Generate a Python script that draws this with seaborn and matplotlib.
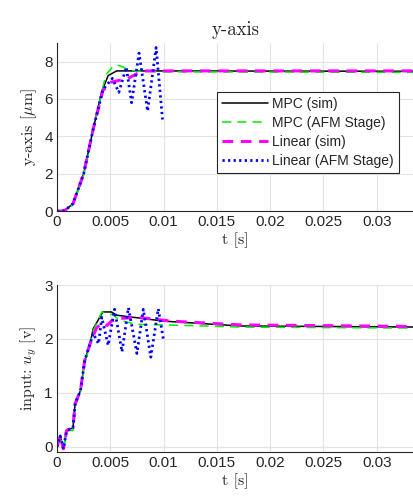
import numpy as np
import pandas as pd
import matplotlib
matplotlib.use("Agg")
import matplotlib.pyplot as plt
import seaborn as sns

sns.set_style("white")
plt.rcParams['font.family'] = ['Liberation Sans', 'DejaVu Sans']
plt.rcParams['mathtext.fontset'] = 'cm'
plt.rcParams['axes.unicode_minus'] = False

# ---------------- data: top panel (y-axis position, um) ----------------
t_top_mpc_sim = [0, 0.0007, 0.0015, 0.0025, 0.0034, 0.0042, 0.0048, 0.0056, 0.034]
y_top_mpc_sim = [0, 0.02, 0.4, 2.0, 4.4, 6.4, 7.25, 7.5, 7.48]

t_top_mpc_afm = [0, 0.0007, 0.0015, 0.0025, 0.0034, 0.0042, 0.0046, 0.0052, 0.0056, 0.0060, 0.0068, 0.0076, 0.0100, 0.034]
y_top_mpc_afm = [0, 0.02, 0.35, 1.9, 4.3, 6.4, 7.3, 7.7, 7.82, 7.75, 7.55, 7.48, 7.45, 7.42]

t_top_lin_sim = [0, 0.0007, 0.0015, 0.0025, 0.0034, 0.0043, 0.0051, 0.0059, 0.0065, 0.0075, 0.0084, 0.034]
y_top_lin_sim = [0, 0.02, 0.4, 2.0, 4.4, 6.45, 6.9, 7.0, 7.05, 7.35, 7.5, 7.5]

t_top_lin_afm = [0, 0.0007, 0.0015, 0.0025, 0.0034, 0.0043, 0.0052, 0.0058, 0.0065, 0.0070, 0.0077, 0.0085, 0.0093, 0.0099]
y_top_lin_afm = [0, 0.02, 0.4, 2.0, 4.4, 6.5, 7.1, 6.35, 7.7, 5.8, 8.45, 5.35, 8.75, 4.9]

# ---------------- data: bottom panel (input u_y, V) ----------------
t_bot_mpc_sim = [0, 0.0003, 0.0006, 0.0009, 0.0015, 0.0017, 0.0022, 0.0026, 0.0031, 0.0034, 0.0043, 0.0051, 0.0056, 0.0100, 0.0172, 0.034]
y_bot_mpc_sim = [0, 0.2, -0.04, 0.3, 0.35, 0.8, 1.04, 1.6, 1.91, 2.19, 2.5, 2.5, 2.44, 2.33, 2.24, 2.22]

t_bot_mpc_afm = [0, 0.0003, 0.0006, 0.0009, 0.0015, 0.0017, 0.0022, 0.0026, 0.0031, 0.0034, 0.0042, 0.0052, 0.0059, 0.0072, 0.0076, 0.0120, 0.0172, 0.034]
y_bot_mpc_afm = [0, 0.2, -0.06, 0.3, 0.3, 0.75, 1.0, 1.55, 1.9, 2.15, 2.5, 2.45, 2.35, 2.28, 2.27, 2.25, 2.22, 2.2]

t_bot_lin_sim = [0, 0.0003, 0.0006, 0.0009, 0.0015, 0.0017, 0.0022, 0.0026, 0.0031, 0.0037, 0.0042, 0.0047, 0.0051, 0.0059, 0.0075, 0.0085, 0.0107, 0.0172, 0.034]
y_bot_lin_sim = [0, 0.2, -0.04, 0.3, 0.35, 0.8, 1.04, 1.6, 1.91, 2.2, 2.3, 2.25, 2.33, 2.38, 2.4, 2.38, 2.33, 2.26, 2.23]

t_bot_lin_afm = [0, 0.0003, 0.0006, 0.0009, 0.0015, 0.0017, 0.0022, 0.0026, 0.0031, 0.0034, 0.0039, 0.0042, 0.0048, 0.0054, 0.0061, 0.0067, 0.0075, 0.0081, 0.0088, 0.0095, 0.0100]
y_bot_lin_afm = [0, 0.2, -0.04, 0.3, 0.35, 0.8, 1.04, 1.6, 1.91, 2.1, 1.91, 2.4, 1.88, 2.55, 1.76, 2.58, 1.73, 2.55, 1.66, 2.56, 1.97]

labels = ["MPC (sim)", "MPC (AFM Stage)", "Linear (sim)", "Linear (AFM Stage)"]
x_ticks = [0, 0.005, 0.01, 0.015, 0.02, 0.025, 0.03]
x_ticklabels = ["0", "0.005", "0.01", "0.015", "0.02", "0.025", "0.03"]
top_yticks = [0, 2, 4, 6, 8]
bot_yticks = [0, 1, 2, 3]

styles = [
    dict(color="black", lw=1.1, ls="-"),
    dict(color="#00ee00", lw=1.1, ls=(0, (6, 4))),
    dict(color="#ff00ff", lw=2.2, ls=(0, (3.5, 2.5))),
    dict(color="#0000ff", lw=2.0, ls=(0, (0.8, 1.2))),
]

fig = plt.figure(figsize=(4.14, 5.04), dpi=100)
ax1 = fig.add_axes([0.1377, 0.581, 0.8623, 0.334])
ax2 = fig.add_axes([0.1377, 0.103, 0.8623, 0.3315])

top_series = [(t_top_mpc_sim, y_top_mpc_sim), (t_top_mpc_afm, y_top_mpc_afm),
              (t_top_lin_sim, y_top_lin_sim), (t_top_lin_afm, y_top_lin_afm)]
bot_series = [(t_bot_mpc_sim, y_bot_mpc_sim), (t_bot_mpc_afm, y_bot_mpc_afm),
              (t_bot_lin_sim, y_bot_lin_sim), (t_bot_lin_afm, y_bot_lin_afm)]

for ax, series in [(ax1, top_series), (ax2, bot_series)]:
    for (t, y), lab, st in zip(series, labels, styles):
        sns.lineplot(x=t, y=y, ax=ax, label=lab, color=st["color"], linewidth=st["lw"],
                     estimator=None, sort=False)
        ax.lines[-1].set_linestyle(st["ls"])

serif = dict(family="cmr10", size=11.5)

for ax in (ax1, ax2):
    ax.set_xlim(0, 0.0335)
    ax.set_xticks(x_ticks)
    ax.set_xticklabels(x_ticklabels)
    ax.grid(True, color="#e3e3e3", lw=0.8)
    ax.set_axisbelow(True)
    for s in ["top", "right"]:
        ax.spines[s].set_visible(False)
    for s in ["left", "bottom"]:
        ax.spines[s].set_color("#262626")
        ax.spines[s].set_linewidth(0.8)
    ax.tick_params(direction="in", length=3, width=0.6, labelsize=11, colors="#262626",
                   pad=3)
    ax.set_xlabel("t [s]", fontdict=serif, labelpad=2)

ax1.set_ylim(0, 9)
ax1.set_yticks(top_yticks)
ax1.set_ylabel(r"y-axis [$\mu$m]", fontdict=serif, labelpad=4)
ax1.set_title("y-axis", family="cmr10", size=13.5, pad=6)

ax2.set_ylim(-0.1, 3)
ax2.set_yticks(bot_yticks)
ax2.set_ylabel(r"input: $u_y$ [v]", fontdict=serif, labelpad=4)

leg = ax1.legend(loc="upper left", bbox_to_anchor=(0.447, 0.71), borderaxespad=0,
                 fancybox=False, framealpha=1, edgecolor="#262626", fontsize=10,
                 handlelength=3.3, handletextpad=0.3, borderpad=0.4, labelspacing=0.35)
leg.get_frame().set_linewidth(0.8)
if ax2.get_legend() is not None:
    ax2.get_legend().remove()

fig.savefig("out.png", dpi=100)
